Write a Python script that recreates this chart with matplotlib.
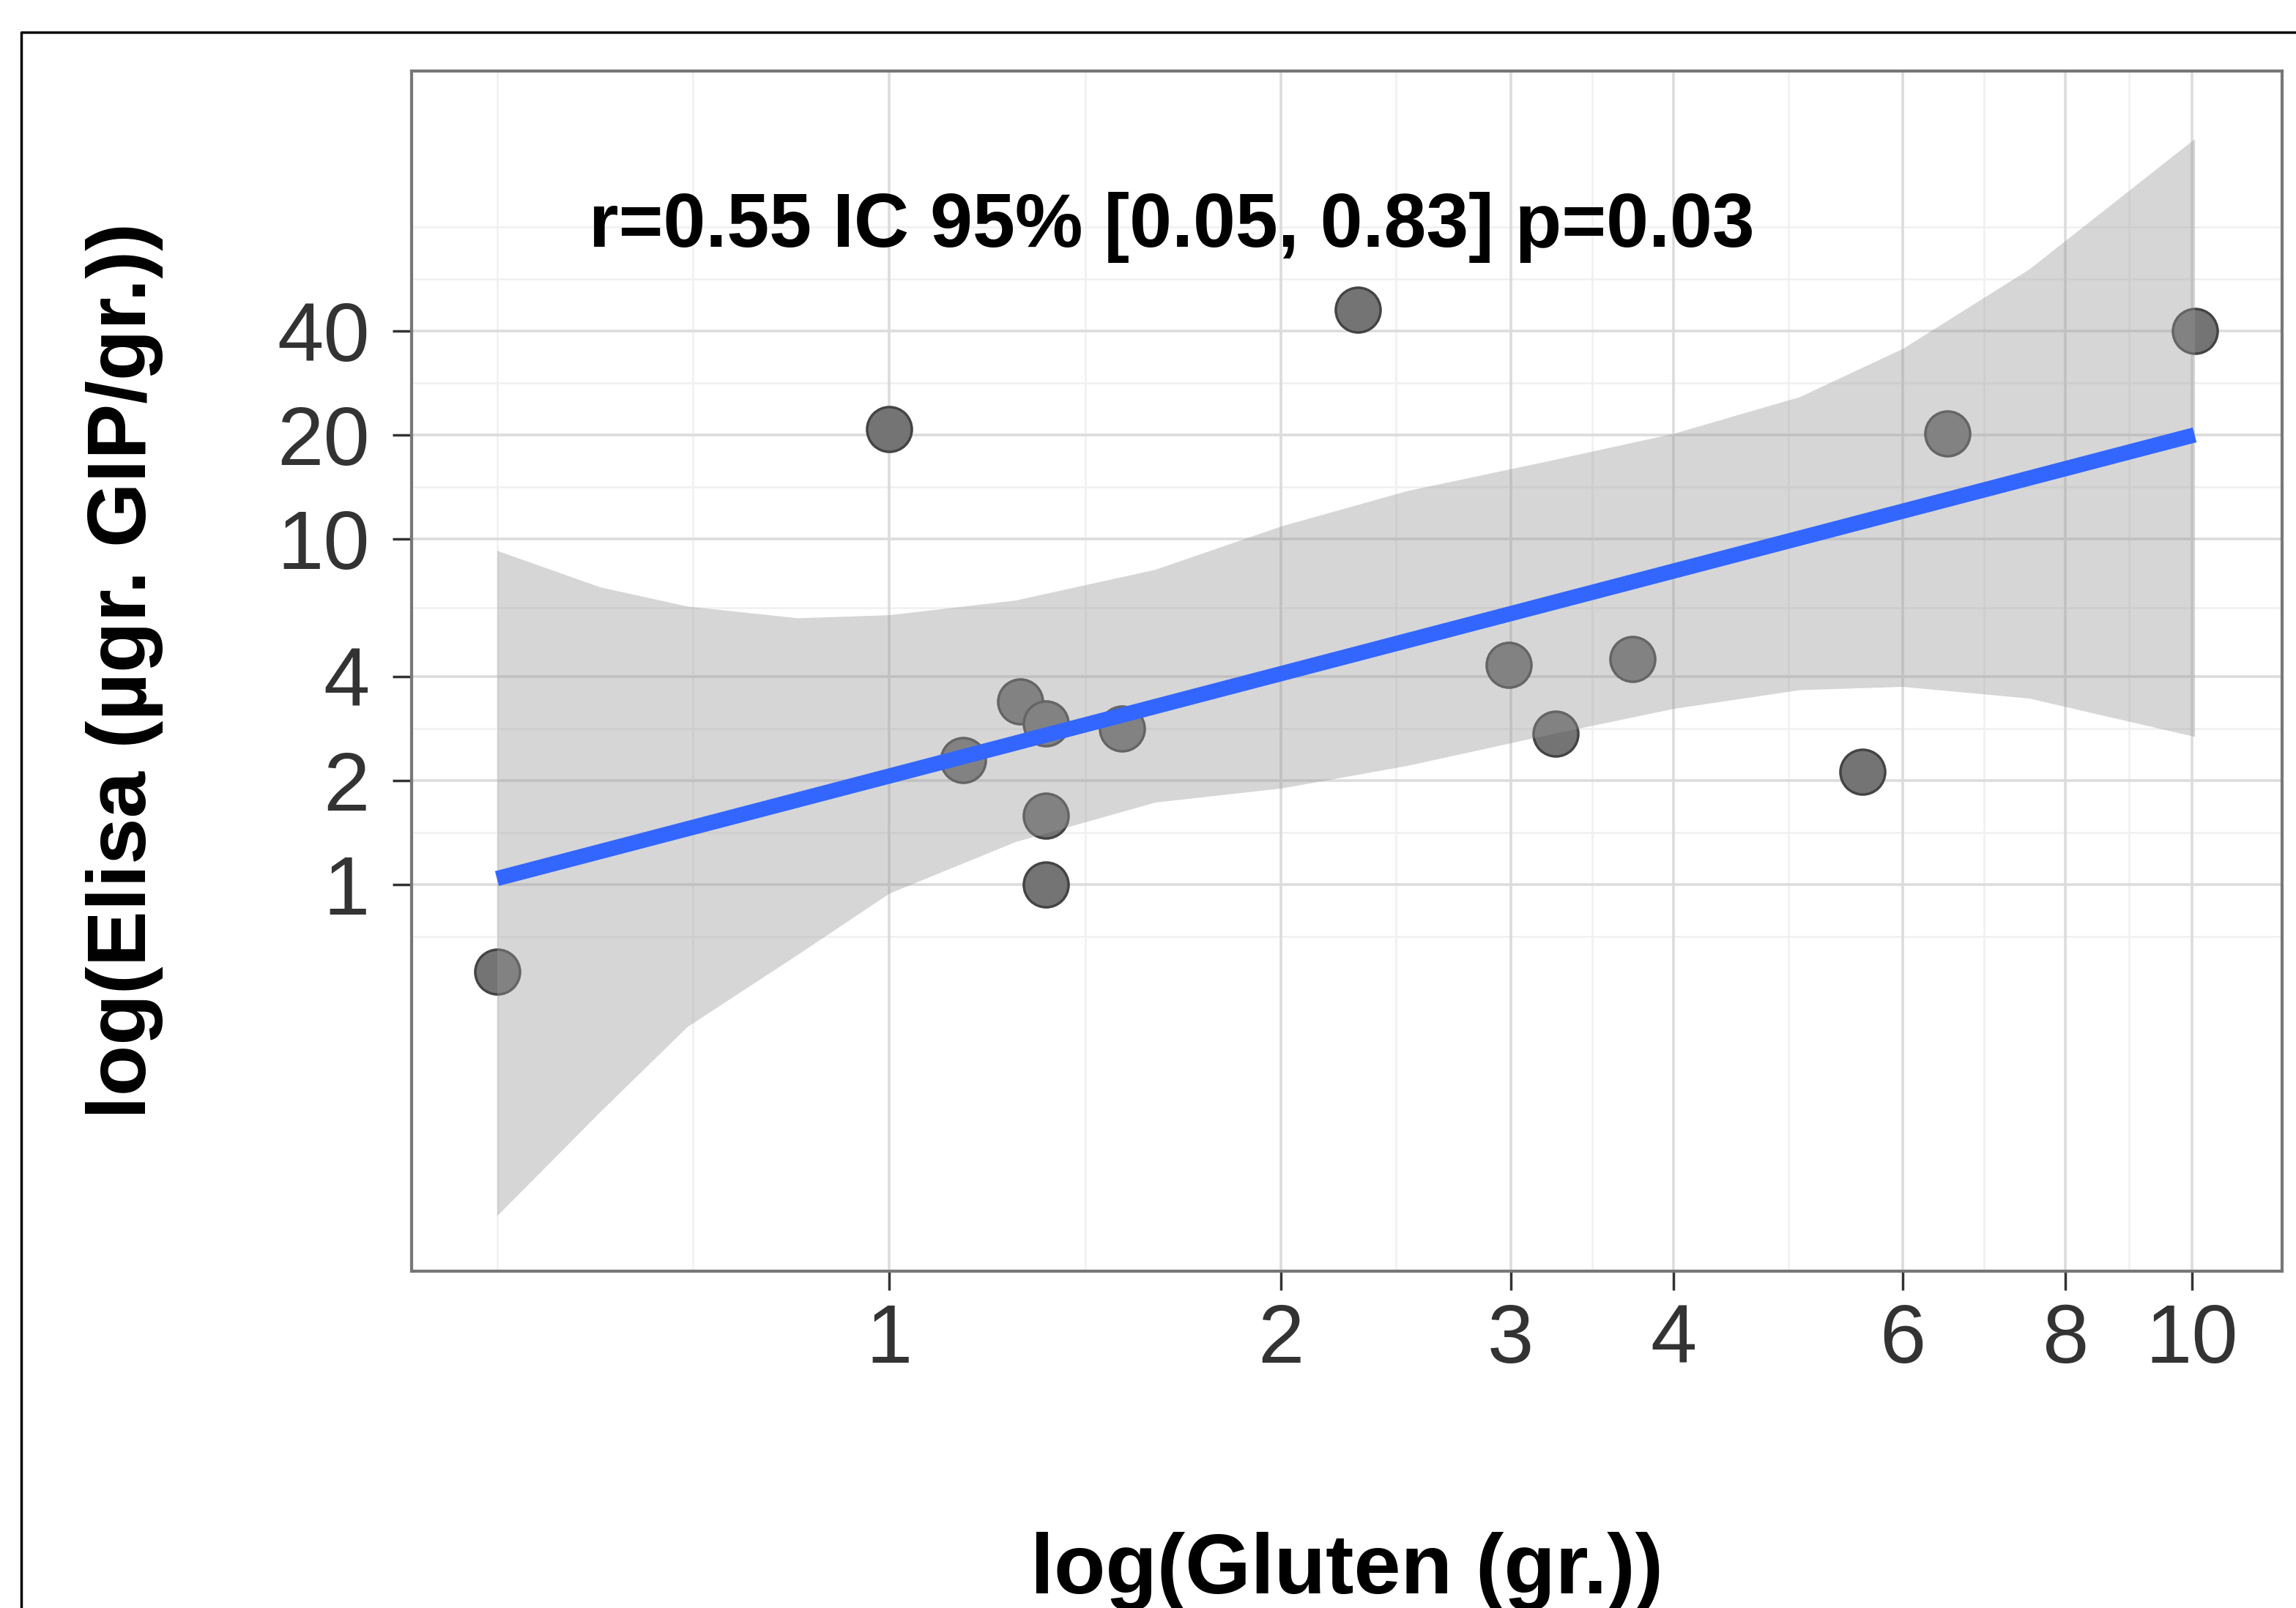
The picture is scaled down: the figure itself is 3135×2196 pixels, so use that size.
"""
gluten_elisa.py
Scatter of Elisa vs gluten (log-log) with lm fit and 95% band
"""
import matplotlib
matplotlib.use("Agg")
import matplotlib.pyplot as plt
from matplotlib.lines import Line2D

# values
gluten = [0.50, 1.00, 1.14, 1.26, 1.32, 1.32, 1.32, 1.51, 2.29, 2.99,
          3.25, 3.72, 5.59, 6.49, 10.05]
elisa = [0.56, 20.8, 2.29, 3.39, 2.93, 1.58, 1.00, 2.82, 46.0, 4.33,
         2.73, 4.50, 2.12, 20.2, 40.0]

# fitted line (ends) and its 95% band
fit_x = [0.50, 10.05]
fit_y = [1.04, 20.0]
band_x = [0.50, 0.60, 0.70, 0.85, 1.00, 1.25, 1.60, 2.00, 2.50, 3.20,
          4.00, 5.00, 6.00, 7.50, 10.05]
band_hi = [9.26, 7.26, 6.39, 5.91, 6.03, 6.65, 8.16, 10.9, 13.8, 16.8,
           20.2, 25.8, 35.6, 60.4, 144]
band_lo = [0.110, 0.220, 0.388, 0.626, 0.943, 1.33, 1.73, 1.90, 2.21, 2.71,
           3.23, 3.66, 3.74, 3.46, 2.68]

x_ticks = [1, 2, 3, 4, 6, 8, 10]
y_ticks = [1, 2, 4, 10, 20, 40]
x_minor = [0.5, 0.707, 1.414, 2.449, 3.464, 4.899, 6.928, 8.944]
y_minor = [0.707, 1.414, 2.828, 6.325, 14.14, 28.28, 56.57, 80]

annot = "r=0.55 IC 95% [0.05, 0.83] p=0.03"

plt.rcParams['font.family'] = ['Liberation Sans', 'DejaVu Sans']

fig = plt.figure(figsize=(31.35, 21.96), dpi=100)
ax = fig.add_axes([562 / 3135, 1 - 1736 / 2196, (3116 - 562) / 3135, (1736 - 97) / 2196])

ax.set_xscale('log')
ax.set_yscale('log')
ax.set_xlim(0.430, 11.73)
ax.set_ylim(0.076, 226)

# grid (drawn by hand so minor lines sit where ggplot puts them)
for v in x_minor:
    ax.axvline(v, color='#F0F0F0', lw=1.8, zorder=0)
for v in y_minor:
    ax.axhline(v, color='#F0F0F0', lw=1.8, zorder=0)
for v in x_ticks:
    ax.axvline(v, color='#DCDCDC', lw=2.6, zorder=0.5)
for v in y_ticks:
    ax.axhline(v, color='#DCDCDC', lw=2.6, zorder=0.5)

# points
ax.scatter(gluten, elisa, s=44 ** 2, c='#747474', edgecolors='#444444',
           linewidths=2.5, zorder=3)

# smooth: band then line
ax.fill_between(band_x, band_lo, band_hi, color='#999999', alpha=0.4,
                lw=0, zorder=4)
ax.plot(fit_x, fit_y, color='#3366FF', lw=15, zorder=5,
        solid_capstyle='butt')

ax.text(1.648, 70, annot, ha='center', va='baseline', fontsize=75,
        fontweight='bold', color='black', zorder=6)

ax.set_xticks(x_ticks)
ax.set_xticklabels([str(v) for v in x_ticks])
ax.set_yticks(y_ticks)
ax.set_yticklabels([str(v) for v in y_ticks])
ax.minorticks_off()
ax.tick_params(axis='both', length=19, width=2.5, color='#333333',
               labelsize=82, labelcolor='#333333')
ax.tick_params(axis='x', pad=12)
ax.tick_params(axis='y', pad=22)

for sp in ax.spines.values():
    sp.set_color('#777777')
    sp.set_linewidth(3)
    sp.set_zorder(7)

fig.text(1839 / 3135, 20 / 2196, "log(Gluten (gr.))", ha='center',
         va='baseline', fontsize=83, fontweight='bold')
fig.text(170 / 3135, 1 - 916 / 2196, "log(Elisa (µgr. GIP/gr.))",
         ha='center', va='center', rotation=90, fontsize=82,
         fontweight='bold')

# outer frame (left and top edges visible in the original)
fx = 29 / 3135
fy = 1 - 44 / 2196
fig.add_artist(Line2D([fx, fx, 1], [0, fy, fy], color='black', lw=2.5,
                      transform=fig.transFigure))

fig.savefig("out.png", dpi=100)
